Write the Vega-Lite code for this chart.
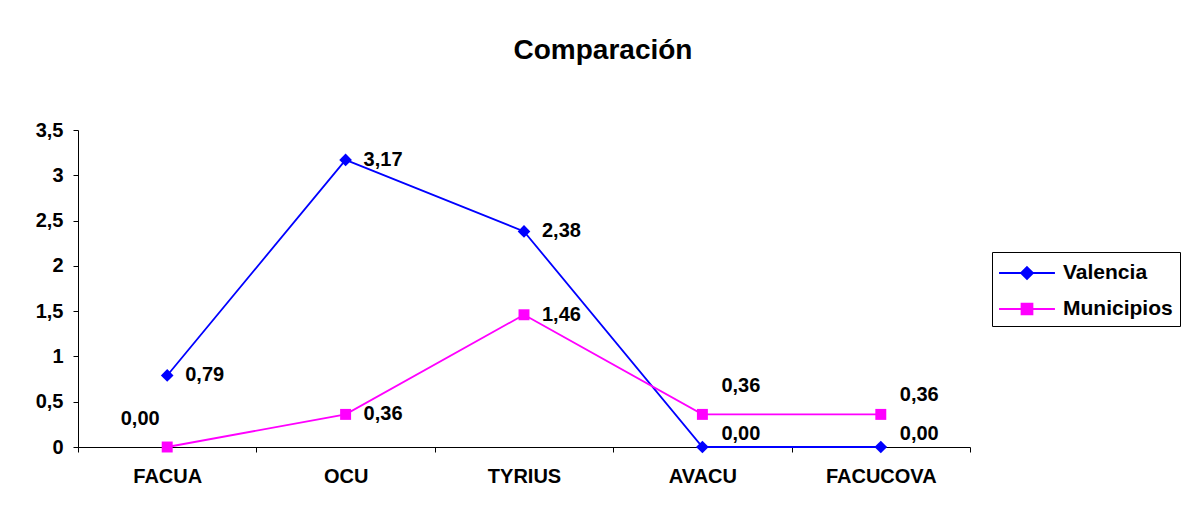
{
  "$schema": "https://vega.github.io/schema/vega-lite/v6.json",
  "width": 892,
  "height": 317,
  "autosize": "none",
  "padding": {"left": 78, "top": 130, "right": 212, "bottom": 67},
  "background": "white",
  "config": {
    "view": {"stroke": null},
    "font": "Liberation Sans",
    "locale": {"number": {"decimal": ",", "thousands": ".", "grouping": [3], "currency": ["", " €"]}}
  },
  "title": {
    "text": "Comparación",
    "font": "Liberation Sans",
    "fontSize": 28,
    "fontWeight": "bold",
    "color": "black",
    "anchor": "middle",
    "dx": 79,
    "offset": 55
  },
  "data": {
    "values": [
      {"org": "FACUA", "serie": "Valencia", "v": 0.79},
      {"org": "OCU", "serie": "Valencia", "v": 3.17},
      {"org": "TYRIUS", "serie": "Valencia", "v": 2.38},
      {"org": "AVACU", "serie": "Valencia", "v": 0.0},
      {"org": "FACUCOVA", "serie": "Valencia", "v": 0.0},
      {"org": "FACUA", "serie": "Municipios", "v": 0.0},
      {"org": "OCU", "serie": "Municipios", "v": 0.36},
      {"org": "TYRIUS", "serie": "Municipios", "v": 1.46},
      {"org": "AVACU", "serie": "Municipios", "v": 0.36},
      {"org": "FACUCOVA", "serie": "Municipios", "v": 0.36}
    ]
  },
  "encoding": {
    "x": {
      "field": "org",
      "type": "nominal",
      "scale": {"type": "band", "paddingInner": 0, "paddingOuter": 0, "domain": ["FACUA", "OCU", "TYRIUS", "AVACU", "FACUCOVA"]},
      "axis": {
        "title": null,
        "labelAngle": 0,
        "labelFont": "Liberation Sans",
        "labelFontSize": 20,
        "labelFontWeight": "bold",
        "labelColor": "black",
        "labelPadding": 14,
        "tickBand": "extent",
        "tickSize": 5,
        "tickColor": "black",
        "domainColor": "black",
        "domainWidth": 1,
        "grid": false
      }
    },
    "y": {
      "field": "v",
      "type": "quantitative",
      "scale": {"domain": [0, 3.5], "nice": false, "zero": true},
      "axis": {
        "title": null,
        "values": [0, 0.5, 1, 1.5, 2, 2.5, 3, 3.5],
        "format": "~g",
        "labelFont": "Liberation Sans",
        "labelFontSize": 20,
        "labelFontWeight": "bold",
        "labelColor": "black",
        "labelPadding": 10,
        "tickSize": 5,
        "tickColor": "black",
        "domainColor": "black",
        "grid": false
      }
    }
  },
  "layer": [
    {
      "mark": {"type": "line", "strokeWidth": 1.8},
      "encoding": {
        "color": {
          "field": "serie",
          "type": "nominal",
          "scale": {"domain": ["Valencia", "Municipios"], "range": ["#0000FF", "#FF00FF"]},
          "legend": {
            "title": null,
            "orient": "none",
            "legendX": 914,
            "legendY": 122,
            "strokeColor": "black",
            "fillColor": "white",
            "padding": 7,
            "labelFont": "Liberation Sans",
            "labelFontSize": 21,
            "labelFontWeight": "bold",
            "labelColor": "black",
            "labelOffset": 22,
            "rowPadding": 12,
            "symbolSize": 676,
            "symbolOffset": 14,
            "symbolStrokeWidth": 1.8,
            "symbolType": "M-2.15,0L2.15,0M0,-0.46L0.46,0L0,0.46L-0.46,0Z",
            "encode": {
              "symbols": {
                "update": {
                  "fill": {"scale": "color", "field": "value"},
                  "stroke": {"scale": "color", "field": "value"},
                  "shape": {"signal": "datum.value == 'Valencia' ? 'M-2.15,0L2.15,0M0,-0.46L0.46,0L0,0.46L-0.46,0Z' : 'M-2.15,0L2.15,0M-0.42,-0.42L0.42,-0.42L0.42,0.42L-0.42,0.42Z'"}
                }
              }
            }
          }
        }
      }
    },
    {
      "transform": [{"filter": "datum.serie == 'Valencia'"}],
      "mark": {"type": "point", "filled": true, "opacity": 1, "shape": "diamond", "size": 160},
      "encoding": {"color": {"field": "serie", "type": "nominal"}}
    },
    {
      "transform": [{"filter": "datum.serie == 'Municipios'"}],
      "mark": {"type": "point", "filled": true, "opacity": 1, "shape": "square", "size": 120},
      "encoding": {"color": {"field": "serie", "type": "nominal"}}
    },
    {
      "transform": [{"filter": "(datum.serie == 'Valencia' && datum.v > 0) || (datum.serie == 'Municipios' && (datum.org == 'OCU' || datum.org == 'TYRIUS'))"}],
      "mark": {"type": "text", "align": "left", "baseline": "middle", "dx": 18, "font": "Liberation Sans", "fontSize": 20, "fontWeight": "bold", "color": "black"},
      "encoding": {"text": {"field": "v", "type": "quantitative", "format": ".2f"}}
    },
    {
      "transform": [{"filter": "datum.serie == 'Valencia' && datum.v == 0"}],
      "mark": {"type": "text", "align": "left", "baseline": "middle", "dx": 19, "dy": -13, "font": "Liberation Sans", "fontSize": 20, "fontWeight": "bold", "color": "black"},
      "encoding": {"text": {"field": "v", "type": "quantitative", "format": ".2f"}}
    },
    {
      "transform": [{"filter": "datum.serie == 'Municipios' && datum.org == 'FACUA'"}],
      "mark": {"type": "text", "align": "center", "baseline": "middle", "dx": -27, "dy": -28, "font": "Liberation Sans", "fontSize": 20, "fontWeight": "bold", "color": "black"},
      "encoding": {"text": {"field": "v", "type": "quantitative", "format": ".2f"}}
    },
    {
      "transform": [{"filter": "datum.serie == 'Municipios' && datum.org == 'AVACU'"}],
      "mark": {"type": "text", "align": "left", "baseline": "middle", "dx": 19, "dy": -28, "font": "Liberation Sans", "fontSize": 20, "fontWeight": "bold", "color": "black"},
      "encoding": {"text": {"field": "v", "type": "quantitative", "format": ".2f"}}
    },
    {
      "transform": [{"filter": "datum.serie == 'Municipios' && datum.org == 'FACUCOVA'"}],
      "mark": {"type": "text", "align": "left", "baseline": "middle", "dx": 19, "dy": -19, "font": "Liberation Sans", "fontSize": 20, "fontWeight": "bold", "color": "black"},
      "encoding": {"text": {"field": "v", "type": "quantitative", "format": ".2f"}}
    }
  ]
}
